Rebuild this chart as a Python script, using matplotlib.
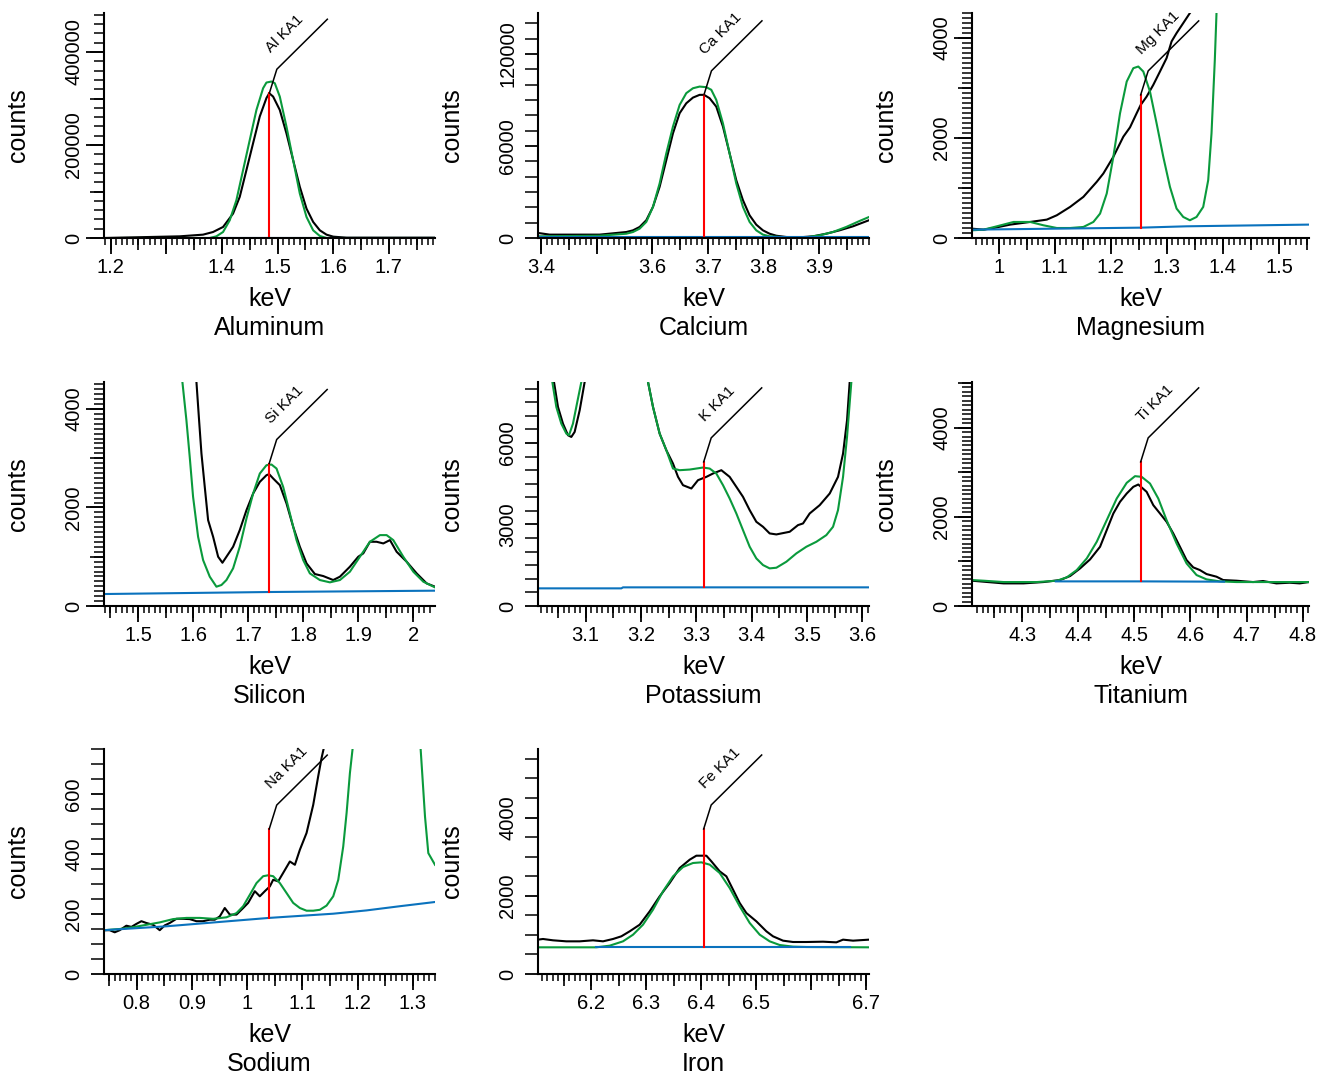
import matplotlib
matplotlib.use("Agg")
import matplotlib.pyplot as plt
from matplotlib.ticker import MultipleLocator

plt.rcParams['font.family'] = ['Liberation Sans', 'DejaVu Sans']

W, H = 1326, 1082
BLACK = 'black'
GREEN = '#0a9a3c'
BLUE = '#0a72bd'
RED = '#ff0000'

# ---------------- Aluminum
al_kev = [1.188, 1.324, 1.366, 1.384, 1.402, 1.420, 1.432, 1.444, 1.456, 1.468, 1.480, 1.485,
          1.492, 1.504, 1.516, 1.528, 1.540, 1.552, 1.564, 1.576, 1.588, 1.600, 1.624, 1.783]
al_counts = [0, 3600, 7200, 12900, 23700, 52500, 88500, 146000, 203900, 261400, 301000, 311400,
             304200, 275400, 225000, 167500, 110000, 63300, 34500, 16500, 7200, 2900, 700, 700]
al_fit_kev = [1.219, 1.378, 1.390, 1.402, 1.414, 1.426, 1.438, 1.450, 1.462, 1.474, 1.480, 1.489,
              1.495, 1.504, 1.516, 1.528, 1.540, 1.552, 1.564, 1.576, 1.588, 1.783]
al_fit = [0, 0, 3600, 12900, 38100, 81300, 146000, 210800, 275400, 322200, 334400, 336600,
          333000, 304200, 239500, 167500, 95600, 45300, 16500, 4300, 0, 0]
al_bg_kev = [1.38, 1.783]
al_bg = [0, 0]
al_line = (1.4852, 0, 311400)

# ---------------- Calcium
ca_kev = [3.394, 3.415, 3.505, 3.553, 3.565, 3.577, 3.589, 3.601, 3.613, 3.625, 3.637, 3.649,
          3.661, 3.673, 3.685, 3.693, 3.703, 3.715, 3.727, 3.739, 3.751, 3.763, 3.775, 3.787,
          3.799, 3.811, 3.823, 3.841, 3.865, 3.889, 3.913, 3.937, 3.961, 3.990]
ca_counts = [3300, 2200, 2200, 3900, 5000, 7200, 11600, 20300, 33400, 50800, 68300, 81400,
             87900, 91600, 93400, 93400, 91200, 85700, 72700, 55200, 37700, 24700, 14800, 8700,
             5000, 2800, 1500, 650, 440, 1100, 2800, 5000, 7600, 11600]
ca_fit_kev = [3.394, 3.505, 3.553, 3.565, 3.577, 3.589, 3.601, 3.613, 3.625, 3.637, 3.649, 3.661,
              3.673, 3.685, 3.697, 3.706, 3.715, 3.727, 3.739, 3.751, 3.763, 3.775, 3.787, 3.799,
              3.811, 3.841, 3.877, 3.901, 3.925, 3.949, 3.973, 3.990]
ca_fit = [1100, 1500, 2800, 3900, 6100, 10500, 20300, 35600, 55200, 72700, 86800, 94500,
          97700, 98800, 98400, 96700, 90100, 74800, 55200, 35600, 20300, 10500, 5000, 2200,
          1100, 440, 440, 1750, 3900, 7200, 11100, 13700]
ca_bg_kev = [3.394, 3.990]
ca_bg = [440, 440]
ca_line = (3.6928, 440, 93400)

# ---------------- Magnesium
mg_kev = [0.9526, 0.9733, 0.9911, 1.0208, 1.0563, 1.0860, 1.1038, 1.1275, 1.1512, 1.1750, 1.1868,
          1.2046, 1.2224, 1.2343, 1.2461, 1.2533, 1.2639, 1.2758, 1.2877, 1.2995, 1.3084, 1.3173,
          1.3292, 1.3410, 1.3588]
mg_counts = [187, 167, 200, 268, 321, 368, 455, 622, 823, 1124, 1291,
             1625, 2027, 2214, 2495, 2662, 2829, 3064, 3331, 3599, 3933, 4100,
             4300, 4500, 4770]
mg_fit_kev = [0.9526, 0.9733, 0.9970, 1.0267, 1.0563, 1.0801, 1.1038, 1.1275, 1.1512, 1.1690,
              1.1809, 1.1928, 1.2046, 1.2165, 1.2284, 1.2402, 1.2491, 1.2580, 1.2699, 1.2817,
              1.2936, 1.3055, 1.3173, 1.3292, 1.3410, 1.3529, 1.3648, 1.3737, 1.3796, 1.3855,
              1.3885, 1.3915]
mg_fit = [154, 167, 234, 321, 321, 254, 200, 200, 221, 321,
          488, 890, 1625, 2495, 3130, 3398, 3431, 3331, 2930, 2294,
          1625, 1023, 589, 421, 355, 421, 622, 1157, 2094, 3565,
          4502, 4770]
mg_bg_kev = [0.9526, 1.2533, 1.3350, 1.5534]
mg_bg = [167, 207, 234, 268]
mg_line = (1.2533, 207, 2863)

# ---------------- Silicon
si_kev = [1.6048, 1.6061, 1.6109, 1.6152, 1.6212, 1.6273, 1.6364, 1.6455, 1.6533, 1.6606, 1.6727,
          1.6848, 1.6970, 1.7091, 1.7212, 1.7333, 1.7382, 1.7455, 1.7576, 1.7697, 1.7818, 1.7939,
          1.8061, 1.8212, 1.8364, 1.8545, 1.8667, 1.8848, 1.9000, 1.9091, 1.9212, 1.9333, 1.9455,
          1.9576, 1.9697, 1.9879, 2.0061, 2.0242, 2.0394]
si_counts = [4784, 4547, 3770, 3095, 2419, 1743, 1405, 1000, 878, 1000, 1203,
             1541, 1946, 2284, 2520, 2655, 2676, 2588, 2453, 2081, 1608, 1203,
             865, 649, 608, 527, 595, 797, 1000, 1068, 1304, 1304, 1270,
             1338, 1101, 899, 662, 459, 392]
si_fit_kev = [1.5788, 1.5806, 1.5879, 1.5939, 1.6000, 1.6091, 1.6182, 1.6303, 1.6424, 1.6515,
              1.6606, 1.6727, 1.6848, 1.6970, 1.7091, 1.7212, 1.7333, 1.7424, 1.7515, 1.7636,
              1.7758, 1.7879, 1.8000, 1.8121, 1.8303, 1.8485, 1.8667, 1.8848, 1.9030, 1.9212,
              1.9394, 1.9515, 1.9636, 1.9818, 2.0000, 2.0182, 2.0394]
si_fit = [4784, 4547, 3770, 3027, 2216, 1405, 932, 595, 392, 426,
          527, 764, 1203, 1777, 2284, 2689, 2858, 2872, 2791, 2419,
          1878, 1338, 932, 662, 527, 480, 527, 696, 1000, 1304,
          1439, 1439, 1338, 1000, 696, 493, 378]
si_bg_kev = [1.4382, 1.7382, 2.0394]
si_bg = [243, 284, 311]
si_line = (1.7382, 284, 2892)

# ---------------- Potassium
k_kev = [3.0139, 3.0428, 3.0500, 3.0590, 3.0681, 3.0741, 3.0801, 3.0892, 3.0982, 3.1024, 3.1500,
         3.2096, 3.2127, 3.2217, 3.2337, 3.2458, 3.2578, 3.2669, 3.2759, 3.2910, 3.3030, 3.3181,
         3.3301, 3.3452, 3.3602, 3.3723, 3.3843, 3.3964, 3.4084, 3.4205, 3.4325, 3.4446, 3.4687,
         3.4837, 3.4928, 3.5048, 3.5229, 3.5410, 3.5560, 3.5651, 3.5723, 3.5771, 3.5801, 3.6120]
k_counts = [12000, 8241, 7323, 6710, 6282, 6220, 6404, 7200, 8241, 8650, 20000,
            8650, 8241, 7323, 6343, 5731, 5241, 4751, 4445, 4323, 4629, 4751,
            4874, 4996, 4751, 4384, 4017, 3527, 3098, 2914, 2670, 2633, 2731,
            2976, 3037, 3404, 3710, 4139, 4751, 5608, 6833, 8241, 8650, 20000]
k_fit_kev = [3.0139, 3.0398, 3.0470, 3.0560, 3.0651, 3.0699, 3.0771, 3.0843, 3.0922, 3.0952, 3.1500,
             3.2096, 3.2127, 3.2217, 3.2337, 3.2458, 3.2578, 3.2699, 3.2880, 3.3120, 3.3241, 3.3361,
             3.3482, 3.3602, 3.3723, 3.3843, 3.3964, 3.4084, 3.4205, 3.4325, 3.4446, 3.4627, 3.4807,
             3.4988, 3.5169, 3.5349, 3.5470, 3.5560, 3.5651, 3.5723, 3.5801, 3.5831, 3.6120]
k_fit = [12000, 8241, 7323, 6710, 6343, 6282, 6710, 7445, 8241, 8650, 20000,
         8650, 8241, 7323, 6343, 5731, 5057, 4996, 5020, 5094, 5057, 4874,
         4445, 3955, 3404, 2792, 2180, 1751, 1506, 1384, 1408, 1629, 1935,
         2180, 2363, 2608, 2914, 3527, 4751, 6220, 8241, 8650, 20000]
k_bg_kev = [3.0139, 3.1645, 3.1675, 3.6120]
k_bg = [649, 649, 686, 686]
k_line = (3.3133, 686, 5302)

# ---------------- Titanium
ti_kev = [4.2106, 4.2313, 4.2669, 4.3025, 4.3381, 4.3677, 4.3855, 4.4033, 4.4211, 4.4389, 4.4508,
          4.4626, 4.4745, 4.4864, 4.4982, 4.5071, 4.5219, 4.5338, 4.5457, 4.5575, 4.5694, 4.5813,
          4.5931, 4.6050, 4.6168, 4.6287, 4.6465, 4.6584, 4.6821, 4.7117, 4.7295, 4.7533, 4.7770,
          4.7948, 4.8114]
ti_counts = [567, 545, 507, 507, 537, 582, 672, 843, 1045, 1328, 1702,
             2075, 2336, 2522, 2672, 2724, 2560, 2261, 2075, 1888, 1627, 1328,
             1030, 866, 806, 716, 657, 582, 567, 537, 560, 507, 522,
             507, 537]
ti_fit_kev = [4.2106, 4.2313, 4.2669, 4.3262, 4.3618, 4.3796, 4.3974, 4.4152, 4.4330, 4.4508,
              4.4686, 4.4864, 4.5012, 4.5130, 4.5279, 4.5427, 4.5575, 4.5753, 4.5931, 4.6109,
              4.6287, 4.6524, 4.6821, 4.8114]
ti_fit = [582, 567, 537, 537, 567, 642, 806, 1067, 1440, 1925,
          2410, 2761, 2911, 2896, 2746, 2410, 1925, 1403, 955, 694,
          597, 552, 537, 537]
ti_bg_kev = [4.36, 4.5113, 4.66]
ti_bg = [552, 552, 545]
ti_line = (4.5113, 552, 3231)

# ---------------- Sodium
na_kev = [0.7409, 0.7512, 0.7603, 0.7693, 0.7814, 0.7905, 0.7995, 0.8086, 0.8176, 0.8297, 0.8418,
          0.8508, 0.8599, 0.8720, 0.8841, 0.8961, 0.9082, 0.9203, 0.9324, 0.9414, 0.9505, 0.9595,
          0.9686, 0.9807, 0.9928, 1.0018, 1.0139, 1.0229, 1.0320, 1.0411, 1.0471, 1.0562, 1.0652,
          1.0773, 1.0864, 1.0954, 1.1075, 1.1196, 1.1286, 1.1347, 1.1425]
na_counts = [146, 146, 139, 146, 161, 157, 167, 176, 170, 164, 146,
             162, 170, 184, 184, 183, 176, 176, 181, 181, 192, 220,
             198, 198, 220, 237, 276, 259, 276, 292, 314, 309, 337,
             375, 364, 414, 470, 564, 659, 720, 784]
na_fit_kev = [0.7409, 0.7693, 0.7935, 0.8176, 0.8418, 0.8659, 0.8901, 0.9143, 0.9384, 0.9626,
              0.9807, 0.9928, 1.0048, 1.0169, 1.0290, 1.0380, 1.0471, 1.0592, 1.0713, 1.0833,
              1.0954, 1.1075, 1.1196, 1.1316, 1.1437, 1.1558, 1.1649, 1.1739, 1.1800, 1.1860,
              1.1908, 1.1932, 1.2500, 1.3116, 1.3140, 1.3176, 1.3219, 1.3279, 1.3400]
na_fit = [146, 150, 156, 164, 172, 183, 187, 187, 184, 189,
          203, 226, 264, 303, 326, 329, 326, 303, 270, 237,
          220, 211, 211, 214, 228, 259, 314, 425, 537, 670,
          750, 790, 3000, 790, 750, 648, 525, 403, 364]
na_bg_kev = [0.7409, 0.8539, 1.0000, 1.0399, 1.1558, 1.2162, 1.2766, 1.3400]
na_bg = [146, 159, 181, 187, 201, 212, 226, 240]
na_line = (1.0399, 187, 483)

# ---------------- Iron
fe_kev = [6.1030, 6.1121, 6.1303, 6.1545, 6.1788, 6.2030, 6.2212, 6.2394, 6.2545, 6.2697, 6.2879,
          6.3061, 6.3242, 6.3424, 6.3606, 6.3788, 6.3909, 6.4091, 6.4182, 6.4333, 6.4455, 6.4576,
          6.4697, 6.4818, 6.5000, 6.5182, 6.5303, 6.5485, 6.5667, 6.5909, 6.6212, 6.6455, 6.6576,
          6.6758, 6.7048]
fe_counts = [878, 895, 861, 835, 835, 861, 835, 895, 963, 1091, 1261,
             1602, 1985, 2326, 2709, 2922, 3024, 3024, 2880, 2624, 2496, 2156,
             1815, 1559, 1346, 1091, 963, 852, 818, 818, 826, 809, 878,
             852, 878]
fe_fit_kev = [6.1030, 6.2091, 6.2333, 6.2576, 6.2758, 6.2939, 6.3121, 6.3303, 6.3485, 6.3667,
              6.3848, 6.4000, 6.4152, 6.4333, 6.4515, 6.4697, 6.4879, 6.5061, 6.5242, 6.5424,
              6.5667, 6.5909, 6.7048]
fe_fit = [682, 682, 724, 835, 1005, 1261, 1644, 2113, 2496, 2735,
          2837, 2854, 2795, 2582, 2198, 1730, 1304, 1005, 835, 741,
          699, 690, 682]
fe_bg_kev = [6.209, 6.670]
fe_bg = [682, 682]
fe_line = (6.4042, 682, 3706)

# ---------------- tick labels
al_xticks = [1.2, 1.3, 1.4, 1.5, 1.6, 1.7]
al_xlabels = ['1.2', '', '1.4', '1.5', '1.6', '1.7']
ca_xticks = [3.4, 3.5, 3.6, 3.7, 3.8, 3.9]
ca_xlabels = ['3.4', '', '3.6', '3.7', '3.8', '3.9']
mg_xticks = [1.0, 1.1, 1.2, 1.3, 1.4, 1.5]
mg_xlabels = ['1', '1.1', '1.2', '1.3', '1.4', '1.5']
si_xticks = [1.5, 1.6, 1.7, 1.8, 1.9, 2.0]
si_xlabels = ['1.5', '1.6', '1.7', '1.8', '1.9', '2']
k_xticks = [3.1, 3.2, 3.3, 3.4, 3.5, 3.6]
k_xlabels = ['3.1', '3.2', '3.3', '3.4', '3.5', '3.6']
ti_xticks = [4.3, 4.4, 4.5, 4.6, 4.7, 4.8]
ti_xlabels = ['4.3', '4.4', '4.5', '4.6', '4.7', '4.8']
na_xticks = [0.8, 0.9, 1.0, 1.1, 1.2, 1.3]
na_xlabels = ['0.8', '0.9', '1', '1.1', '1.2', '1.3']
fe_xticks = [6.2, 6.3, 6.4, 6.5, 6.6, 6.7]
fe_xlabels = ['6.2', '6.3', '6.4', '6.5', '', '6.7']

al_yticks = [0, 200000, 400000]
ca_yticks = [0, 60000, 120000]
mg_yticks = [0, 2000, 4000]
si_yticks = [0, 2000, 4000]
k_yticks = [0, 3000, 6000]
ti_yticks = [0, 2000, 4000]
na_yticks = [0, 200, 400, 600]
fe_yticks = [0, 2000, 4000]

names = ['Aluminum', 'Calcium', 'Magnesium', 'Silicon', 'Potassium', 'Titanium', 'Sodium', 'Iron']
tags = ['Al KA1', 'Ca KA1', 'Mg KA1', 'Si KA1', 'K KA1', 'Ti KA1', 'Na KA1', 'Fe KA1']

# layout: axes boxes in pixels (left, top, right, bottom), axis limits, tick style
boxes = [(104, 13, 435, 238), (538, 13, 869, 238), (972, 13, 1309, 238),
         (104, 382, 435, 606), (538, 382, 869, 606), (972, 382, 1309, 606),
         (104, 749, 435, 974), (538, 749, 869, 974)]
xlims = [(1.188, 1.783), (3.394, 3.990), (0.9526, 1.5534), (1.4382, 2.0394),
         (3.0139, 3.612), (4.2106, 4.8114), (0.7409, 1.340), (6.103, 6.7048)]
ylims = [484000, 146800, 4502, 4547, 8241, 5022, 750, 5751]
# (minor step, medium step or None, minor tick as long as major)
ystyle = [(20000, 100000, False), (10000, None, True), (100, 1000, False), (100, 1000, False),
          (500, None, True), (100, 1000, False), (50, None, True), (500, None, True)]

panels = [
    (al_kev, al_counts, al_fit_kev, al_fit, al_bg_kev, al_bg, al_line, al_xticks, al_xlabels, al_yticks),
    (ca_kev, ca_counts, ca_fit_kev, ca_fit, ca_bg_kev, ca_bg, ca_line, ca_xticks, ca_xlabels, ca_yticks),
    (mg_kev, mg_counts, mg_fit_kev, mg_fit, mg_bg_kev, mg_bg, mg_line, mg_xticks, mg_xlabels, mg_yticks),
    (si_kev, si_counts, si_fit_kev, si_fit, si_bg_kev, si_bg, si_line, si_xticks, si_xlabels, si_yticks),
    (k_kev, k_counts, k_fit_kev, k_fit, k_bg_kev, k_bg, k_line, k_xticks, k_xlabels, k_yticks),
    (ti_kev, ti_counts, ti_fit_kev, ti_fit, ti_bg_kev, ti_bg, ti_line, ti_xticks, ti_xlabels, ti_yticks),
    (na_kev, na_counts, na_fit_kev, na_fit, na_bg_kev, na_bg, na_line, na_xticks, na_xlabels, na_yticks),
    (fe_kev, fe_counts, fe_fit_kev, fe_fit, fe_bg_kev, fe_bg, fe_line, fe_xticks, fe_xlabels, fe_yticks),
]

fig = plt.figure(figsize=(W / 100, H / 100), dpi=100)

for i, (kev, cts, fkev, fit, bkev, bg, line, xt, xl, yt) in enumerate(panels):
    l, t, r, b = boxes[i]
    wpx, hpx = r - l, b - t
    ax = fig.add_axes([l / W, 1 - b / H, wpx / W, hpx / H])
    ax.plot(kev, cts, color=BLACK, lw=1.5)
    ax.plot(fkev, fit, color=GREEN, lw=1.5)
    ax.plot(bkev, bg, color=BLUE, lw=1.5)
    x0, base, top = line
    ax.plot([x0, x0], [base, top], color=RED, lw=1.5)
    ax.set_xlim(*xlims[i])
    ax.set_ylim(0, ylims[i])

    for s in ('top', 'right'):
        ax.spines[s].set_visible(False)
    for s in ('left', 'bottom'):
        ax.spines[s].set_linewidth(1.5)

    # x ticks: 0.1 long, 0.05 medium, 0.01 short
    ax.set_xticks(xt, labels=xl)
    ax.xaxis.set_minor_locator(MultipleLocator(0.01))
    ax.tick_params(axis='x', which='major', length=11.5, width=1.3, pad=3, labelsize=14.5)
    ax.tick_params(axis='x', which='minor', length=5, width=1.1)
    secx = ax.secondary_xaxis('bottom')
    secx.xaxis.set_major_locator(MultipleLocator(0.05))
    secx.tick_params(length=8.4, width=1.2, labelbottom=False)
    secx.spines['bottom'].set_visible(False)

    # y ticks
    minor, medium, same = ystyle[i]
    ylen = 9.6 if same else 12.7
    ax.set_yticks(yt, labels=[str(v) for v in yt])
    ax.yaxis.set_minor_locator(MultipleLocator(minor))
    ax.tick_params(axis='y', which='major', length=ylen, width=1.3, pad=15.1 - ylen,
                   labelsize=14.5, labelrotation=90)
    ax.tick_params(axis='y', which='minor', length=ylen if same else 7.0, width=1.1)
    for lab in ax.get_yticklabels():
        lab.set_va('center')
    if medium:
        secy = ax.secondary_yaxis('left')
        secy.yaxis.set_major_locator(MultipleLocator(medium))
        secy.tick_params(length=10.3, width=1.2, labelleft=False)
        secy.spines['left'].set_visible(False)

    # axis titles
    ax.text(-86 / wpx, 0.5, 'counts', transform=ax.transAxes, rotation=90,
            ha='center', va='center', fontsize=18)
    ax.text(0.5, -68 / hpx, 'keV', transform=ax.transAxes, ha='center', va='baseline', fontsize=18)
    ax.text(0.5, -97 / hpx, names[i], transform=ax.transAxes, ha='center', va='baseline', fontsize=18)

    # leader line with the emission-line tag
    px, py = ax.transData.transform((x0, top))
    inv = ax.transData.inverted()
    pts = inv.transform([(px, py), (px + 7.5, py + 24), (px + 58, py + 74)])
    ax.plot(pts[:, 0], pts[:, 1], color=BLACK, lw=1.1, clip_on=False)
    tx, ty = inv.transform((px + 1.5, py + 40))
    ax.text(tx, ty, tags[i], rotation=45, rotation_mode='anchor', ha='left', va='baseline',
            fontsize=11)

fig.savefig('out.png', dpi=100)
